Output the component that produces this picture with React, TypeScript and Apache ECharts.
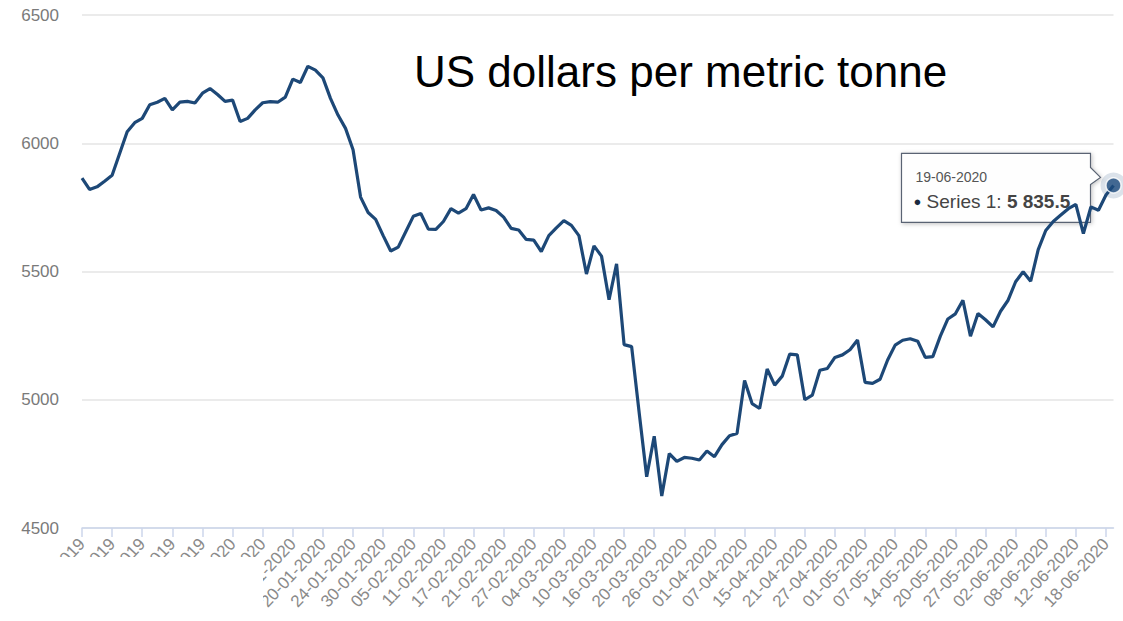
import React, { useEffect, useRef } from "react";
import * as echarts from "echarts";

const categories: string[] = [
  "02-12-2019","03-12-2019","04-12-2019","05-12-2019","06-12-2019","09-12-2019","10-12-2019","11-12-2019","12-12-2019","13-12-2019",
  "16-12-2019","17-12-2019","18-12-2019","19-12-2019","20-12-2019","23-12-2019","24-12-2019","27-12-2019","30-12-2019","31-12-2019",
  "02-01-2020","03-01-2020","06-01-2020","07-01-2020","08-01-2020","09-01-2020","10-01-2020","13-01-2020","14-01-2020","15-01-2020",
  "16-01-2020","17-01-2020","20-01-2020","21-01-2020","22-01-2020","23-01-2020","24-01-2020","27-01-2020","28-01-2020","29-01-2020",
  "30-01-2020","31-01-2020",
  "03-02-2020","04-02-2020","05-02-2020","06-02-2020","07-02-2020","10-02-2020","11-02-2020","12-02-2020","13-02-2020","14-02-2020",
  "17-02-2020","18-02-2020","19-02-2020","20-02-2020","21-02-2020","24-02-2020","25-02-2020","26-02-2020","27-02-2020","28-02-2020",
  "02-03-2020","03-03-2020","04-03-2020","05-03-2020","06-03-2020","09-03-2020","10-03-2020","11-03-2020","12-03-2020","13-03-2020",
  "16-03-2020","17-03-2020","18-03-2020","19-03-2020","20-03-2020","23-03-2020","24-03-2020","25-03-2020","26-03-2020","27-03-2020",
  "30-03-2020","31-03-2020",
  "01-04-2020","02-04-2020","03-04-2020","06-04-2020","07-04-2020","08-04-2020","09-04-2020","14-04-2020","15-04-2020","16-04-2020",
  "17-04-2020","20-04-2020","21-04-2020","22-04-2020","23-04-2020","24-04-2020","27-04-2020","28-04-2020","29-04-2020","30-04-2020",
  "01-05-2020","04-05-2020","05-05-2020","06-05-2020","07-05-2020","11-05-2020","12-05-2020","13-05-2020","14-05-2020","15-05-2020",
  "18-05-2020","19-05-2020","20-05-2020","21-05-2020","22-05-2020","26-05-2020","27-05-2020","28-05-2020","29-05-2020",
  "01-06-2020","02-06-2020","03-06-2020","04-06-2020","05-06-2020","08-06-2020","09-06-2020","10-06-2020","11-06-2020","12-06-2020",
  "15-06-2020","16-06-2020","17-06-2020","18-06-2020","19-06-2020",
];

const seriesValues: number[] = [
  5864, 5820, 5830, 5852, 5875, 5960, 6045, 6080, 6097, 6150,
  6160, 6175, 6130, 6160, 6163, 6157, 6195, 6213, 6190, 6163,
  6168, 6085, 6097, 6130, 6158, 6162, 6160, 6180, 6250, 6237,
  6300, 6285, 6255, 6175, 6110, 6058, 5975, 5790, 5730, 5703,
  5640, 5580, 5595, 5655, 5715, 5726, 5665, 5664, 5695, 5745,
  5728, 5745, 5800, 5740, 5748, 5738, 5712, 5668, 5662, 5625,
  5622, 5578, 5640, 5670, 5698, 5680, 5640, 5490, 5600, 5560,
  5390, 5530, 5215, 5207, 4950, 4700, 4858, 4625, 4790, 4760,
  4775, 4772, 4765, 4800, 4778, 4825, 4860, 4869, 5075, 4985,
  4966, 5120, 5057, 5092, 5178, 5175, 5000, 5018, 5115, 5122,
  5165, 5175, 5195, 5233, 5068, 5064, 5080, 5155, 5213, 5232,
  5238, 5228, 5165, 5168, 5248, 5315, 5335, 5388, 5248, 5336,
  5312, 5284, 5345, 5388, 5460, 5499, 5462, 5585, 5660, 5695,
  5720, 5745, 5762, 5648, 5752, 5739, 5798, 5835.5,
];

const yTicks: number[] = [4500, 5000, 5500, 6000, 6500];
const seriesName = "Series 1";
const titleText = "US dollars per metric tonne";

const LINE_COLOR = "#1d4877";

function fmt(v: number): string {
  const s = v.toFixed(1);
  const [intPart, dec] = s.split(".");
  const withSpace = intPart.replace(/\B(?=(\d{3})+(?!\d))/g, " ");
  return withSpace + "." + dec;
}

export default function App() {
  const ref = useRef<HTMLDivElement>(null);

  useEffect(() => {
    if (!ref.current) return;
    const chart = echarts.init(ref.current, undefined, { renderer: "svg" });
    const lastIdx = seriesValues.length - 1;
    const lastVal = seriesValues[lastIdx];

    chart.setOption({
      animation: false,
      backgroundColor: "#ffffff",
      title: {
        text: titleText,
        left: 409,
        top: 44,
        textStyle: {
          fontFamily: "Liberation Sans",
          fontSize: 44,
          fontWeight: "normal",
          color: "#000000",
        },
      },
      grid: { left: 82, right: 9.5, top: 15, bottom: 93, containLabel: false },
      xAxis: {
        type: "category",
        data: categories,
        boundaryGap: false,
        axisLine: { lineStyle: { color: "#ccd6eb", width: 1.5 } },
        axisTick: { interval: 3, length: 9, lineStyle: { color: "#ccd6eb", width: 1.5 } },
        axisLabel: {
          interval: 3,
          rotate: 47,
          color: "#8a8a8a",
          fontFamily: "Liberation Sans",
          fontSize: 17,
          margin: 13,
        },
        splitLine: { show: false },
      },
      yAxis: {
        type: "value",
        min: yTicks[0],
        max: yTicks[yTicks.length - 1],
        interval: 500,
        axisLine: { show: false },
        axisTick: { show: false },
        axisLabel: {
          color: "#7a7a7a",
          fontFamily: "Liberation Sans",
          fontSize: 17,
          margin: 23,
          formatter: (v: number) => String(v),
        },
        splitLine: { lineStyle: { color: "#ebebeb", width: 2 } },
      },
      series: [
        {
          name: seriesName,
          type: "line",
          data: seriesValues,
          showSymbol: false,
          symbol: "none",
          lineStyle: { color: LINE_COLOR, width: 3.2 },
          itemStyle: { color: LINE_COLOR },
          silent: true,
          z: 3,
        },
        {
          name: seriesName + " halo",
          type: "scatter",
          data: [[lastIdx, lastVal]],
          symbol: "circle",
          symbolSize: 26,
          itemStyle: { color: "rgba(28,74,124,0.2)" },
          silent: true,
          z: 2,
        },
        {
          name: seriesName + " point",
          type: "scatter",
          data: [[lastIdx, lastVal]],
          symbol: "circle",
          symbolSize: 15,
          itemStyle: { color: "#1c4a7c", borderColor: "#ffffff", borderWidth: 1.5 },
          silent: true,
          z: 4,
        },
      ],
    });

    const [px, py] = chart.convertToPixel({ xAxisIndex: 0, yAxisIndex: 0 }, [lastIdx, lastVal]) as number[];
    const R = px - 23;
    const L = px - 212;
    const T = py - 32;
    const B = py + 37;

    chart.setOption({
      graphic: [
        {
          type: "rect",
          shape: { x: 0, y: 557, width: 263, height: 70 },
          style: { fill: "#ffffff" },
          z: 100,
          silent: true,
        },
        {
          type: "group",
          z: 50,
          children: [
            {
              type: "polygon",
              shape: {
                points: [
                  [L, T],
                  [R, T],
                  [R, py - 18],
                  [px - 13, py - 8],
                  [R, py - 1],
                  [R, B],
                  [L, B],
                ],
              },
              style: {
                fill: "rgba(255,255,255,0.96)",
                stroke: "#5a6473",
                lineWidth: 1.2,
                shadowBlur: 4,
                shadowColor: "rgba(0,0,0,0.25)",
                shadowOffsetX: 1,
                shadowOffsetY: 1,
              },
            },
            {
              type: "text",
              x: L + 14,
              y: T + 24,
              style: {
                text: categories[lastIdx],
                fontFamily: "Liberation Sans",
                fontSize: 14,
                fill: "#555555",
                verticalAlign: "middle",
              },
            },
            {
              type: "text",
              x: L + 12,
              y: T + 48,
              style: {
                text: "{d|●} " + seriesName + ": {b|" + fmt(lastVal) + "}",
                fontFamily: "Liberation Sans",
                fontSize: 19,
                fill: "#444444",
                verticalAlign: "middle",
                rich: {
                  d: { fontSize: 13, fill: "#1a2a3f", fontFamily: "Liberation Sans" },
                  b: { fontSize: 19, fontWeight: "bold", fill: "#444444", fontFamily: "Liberation Sans" },
                },
              },
            },
          ],
        },
      ],
    });

    return () => chart.dispose();
  }, []);

  return (
    <div
      ref={ref}
      style={{ position: "fixed", left: 0, top: 0, width: 1123, height: 621, background: "#fff" }}
    />
  );
}
